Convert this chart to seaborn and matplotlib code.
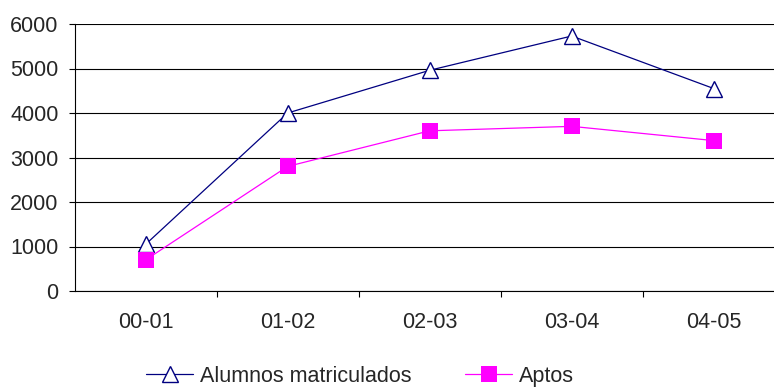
import seaborn as sns
import pandas as pd
import numpy as np
import matplotlib.pyplot as plt
from matplotlib.ticker import FixedLocator

# Data
periods = ['00-01', '01-02', '02-03', '03-04', '04-05']
matriculados = [1050, 4000, 4960, 5730, 4550]
aptos = [700, 2800, 3600, 3700, 3380]

sns.set_style("white")
plt.rcParams['font.family'] = ['Liberation Sans', 'DejaVu Sans']

fs = 15.5

fig = plt.figure(figsize=(7.74, 3.87), dpi=100)
ax = fig.add_axes([74.7 / 774, 1 - 291 / 387, 710 / 774, 267 / 387])

df = pd.DataFrame({'Periodo': periods, 'Alumnos matriculados': matriculados, 'Aptos': aptos})

sns.lineplot(data=df, x='Periodo', y='Alumnos matriculados', ax=ax, sort=False,
             color='#000080', linewidth=0.9, marker='^', markersize=11.5,
             markerfacecolor='white', markeredgecolor='#000080', markeredgewidth=1.0,
             label='Alumnos matriculados')
sns.lineplot(data=df, x='Periodo', y='Aptos', ax=ax, sort=False,
             color='#FF00FF', linewidth=0.9, marker='s', markersize=11.5,
             markerfacecolor='#FF00FF', markeredgecolor='#FF00FF', markeredgewidth=0,
             label='Aptos')

ax.set_xlim(-0.5, len(periods) - 0.5)
ax.set_ylim(0, 6000)
ax.set_yticks(np.arange(0, 6001, 1000))
ax.set_xlabel('')
ax.set_ylabel('')

# gridlines
ax.yaxis.grid(True, color='black', linewidth=0.8)
ax.xaxis.grid(False)
ax.set_axisbelow(True)

for side in ['top', 'right']:
    ax.spines[side].set_visible(False)
ax.spines['left'].set_color('black')
ax.spines['left'].set_linewidth(0.8)
ax.spines['bottom'].set_color('black')
ax.spines['bottom'].set_linewidth(0.8)

# ticks: y outward, x between categories
ax.tick_params(axis='y', which='major', direction='out', length=4.5, width=0.8,
               color='black', left=True, labelsize=fs, pad=7)
ax.tick_params(axis='x', which='major', length=0, labelsize=fs, pad=15)
ax.xaxis.set_minor_locator(FixedLocator(np.arange(0.5, len(periods) - 0.5, 1)))
ax.tick_params(axis='x', which='minor', direction='out', length=4.5, width=0.8,
               color='black', bottom=True)

handles, labels = ax.get_legend_handles_labels()
ax.get_legend().remove()
fig.legend(handles, labels, loc='center', bbox_to_anchor=(0.465, 1 - 376.5 / 387), ncol=2,
           frameon=False, fontsize=fs, handlelength=2.2, columnspacing=2.5,
           handletextpad=0.3, borderpad=0)

fig.savefig('out.png', dpi=100)
